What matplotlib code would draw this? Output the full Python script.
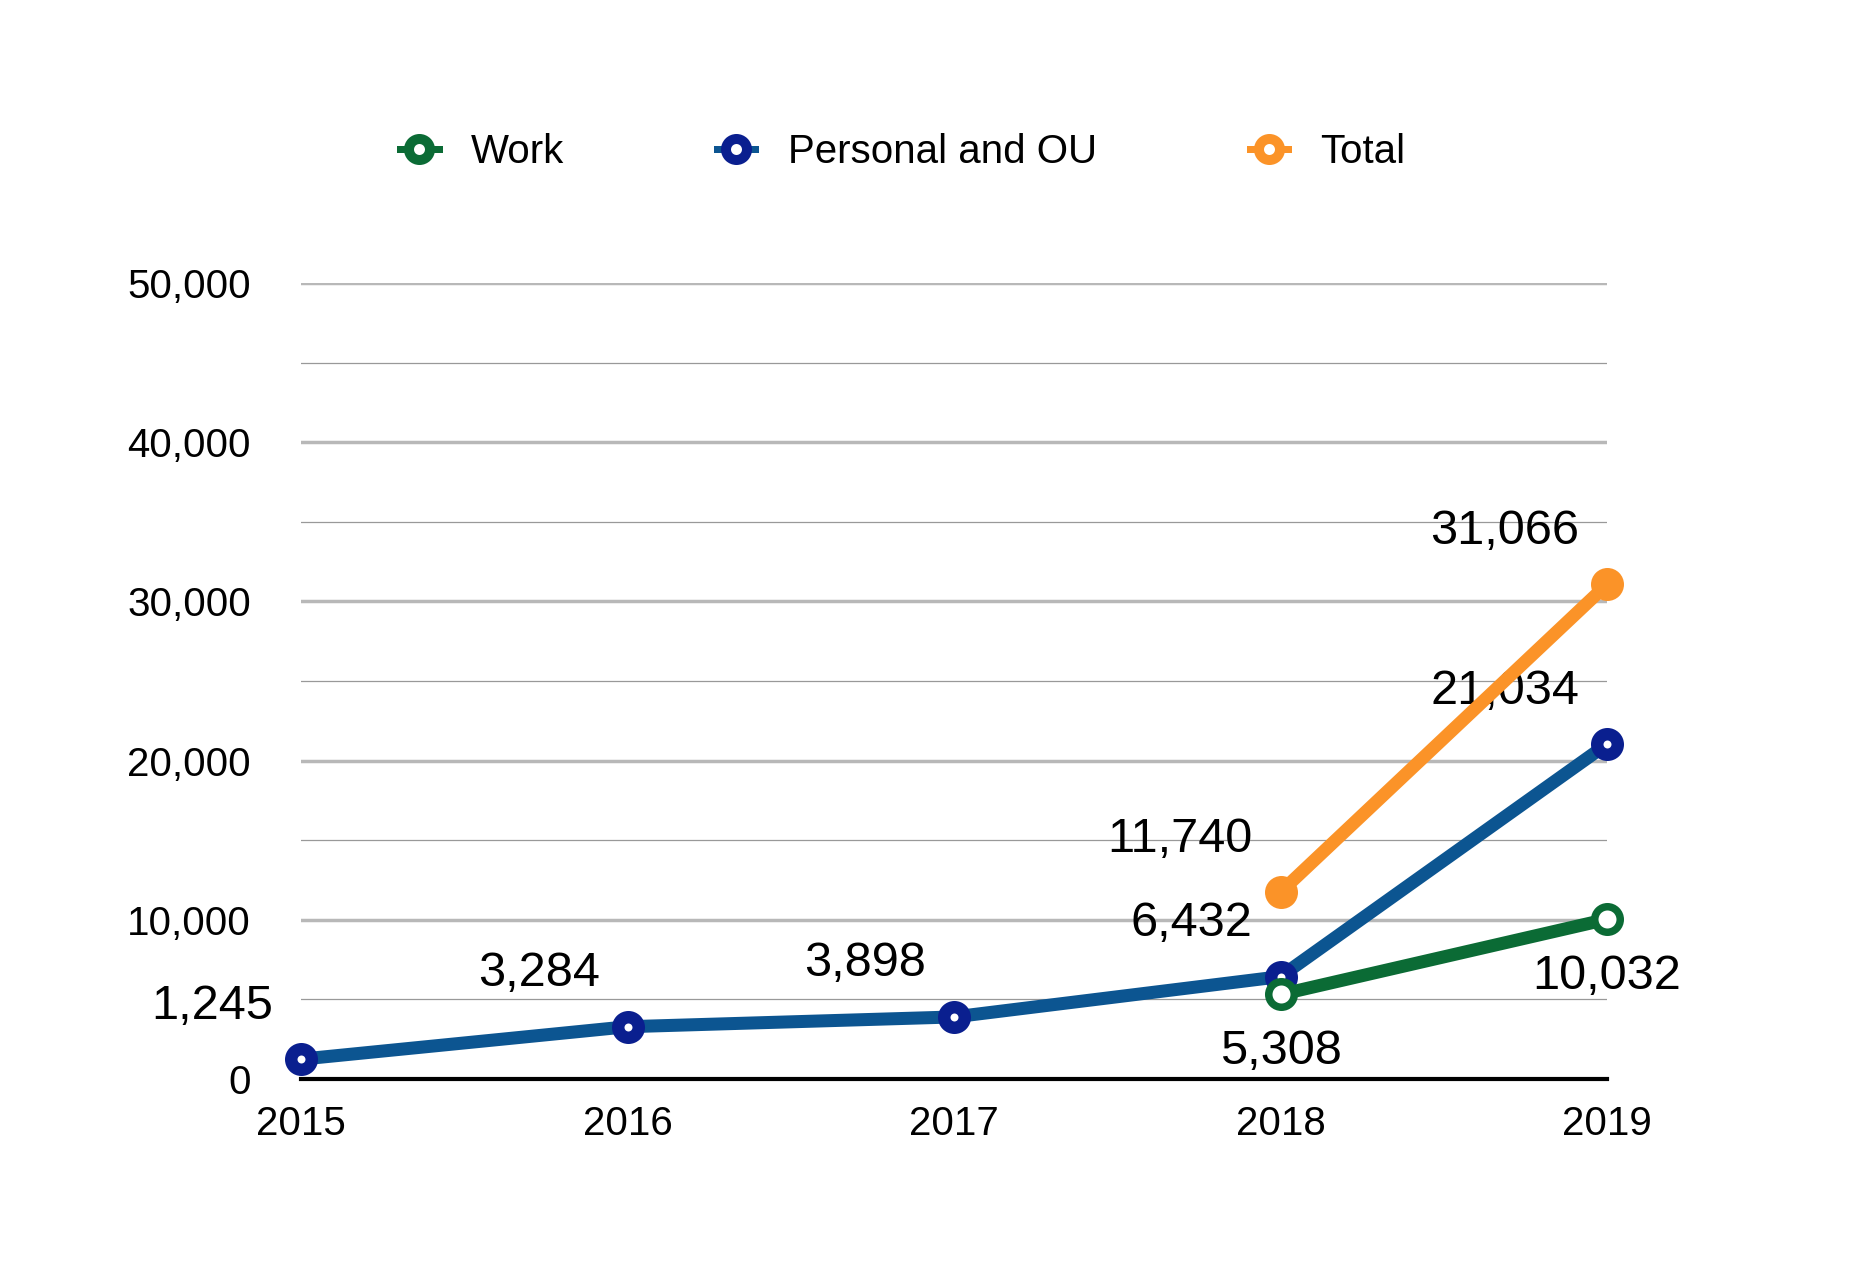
import matplotlib.pyplot as plt
from matplotlib.lines import Line2D
from matplotlib.ticker import FuncFormatter, MultipleLocator

plt.rcParams['font.family'] = ['Liberation Sans', 'DejaVu Sans']

# datos
anios = [2015, 2016, 2017, 2018, 2019]
anios_work = [2018, 2019]
work = [5308, 10032]
personal = [1245, 3284, 3898, 6432, 21034]
anios_total = [2018, 2019]
total = [11740, 31066]
nombres = ["Work", "Personal and OU", "Total"]

verde = "#0b6b35"
azul_linea = "#0c5591"
azul_marca = "#0a1f8f"
naranja = "#fb9328"

fig = plt.figure(figsize=(18.54, 12.62), dpi=100)
ax = fig.add_axes([301 / 1854, 1 - 1079 / 1262, (1607 - 301) / 1854, (1079 - 283) / 1262])

px = 72 / 100  # puntos por pixel

ax.plot(anios, personal, color=azul_linea, lw=13 * px, marker="o", ms=20.5 * px,
        mfc="white", mec=azul_marca, mew=12.5 * px, clip_on=False, zorder=3)
ax.plot(anios_work, work, color=verde, lw=13 * px, marker="o", ms=25.5 * px,
        mfc="white", mec=verde, mew=7.5 * px, clip_on=False, zorder=4)
ax.plot(anios_total, total, color=naranja, lw=13 * px, marker="o", ms=33 * px,
        mfc=naranja, mec=naranja, mew=0, clip_on=False, zorder=5)

# etiquetas de datos
for x, y in zip(anios, personal):
    ax.annotate(f"{y:,}", (x, y), xytext=(-28, 53), textcoords="offset pixels",
                ha="right", va="center", fontsize=35)
for x, y in zip(anios_total, total):
    ax.annotate(f"{y:,}", (x, y), xytext=(-28, 53), textcoords="offset pixels",
                ha="right", va="center", fontsize=35)
for x, y in zip(anios_work, work):
    ax.annotate(f"{y:,}", (x, y), xytext=(0, -57), textcoords="offset pixels",
                ha="center", va="center", fontsize=35)

ax.set_xlim(2015, 2019)
ax.set_ylim(0, 50000)
ax.set_xticks(anios)
ax.yaxis.set_major_locator(MultipleLocator(10000))
ax.yaxis.set_minor_locator(MultipleLocator(5000))
ax.yaxis.set_major_formatter(FuncFormatter(lambda v, p: f"{int(v):,}"))
ax.tick_params(axis="both", which="both", length=0, labelsize=29)
ax.tick_params(axis="y", pad=36)
ax.tick_params(axis="x", pad=19)

ax.grid(axis="y", which="major", color="#b8b8b8", lw=2.5)
ax.grid(axis="y", which="minor", color="#999999", lw=0.9)
ax.set_axisbelow(True)
for lado in ["top", "right", "left"]:
    ax.spines[lado].set_visible(False)
ax.spines["bottom"].set_linewidth(3)
ax.spines["bottom"].set_zorder(2)

# leyenda con anillos
manijas = [
    Line2D([], [], color=verde, lw=7 * px, marker="o", ms=21 * px, mfc="white",
           mec=verde, mew=10 * px),
    Line2D([], [], color=azul_linea, lw=7 * px, marker="o", ms=21 * px, mfc="white",
           mec=azul_marca, mew=10 * px),
    Line2D([], [], color=naranja, lw=7 * px, marker="o", ms=21 * px, mfc="white",
           mec=naranja, mew=10 * px),
]
fig.legend(manijas, nombres, loc="center", bbox_to_anchor=(0.487, 1 - 152 / 1262),
           ncol=3, frameon=False, fontsize=29, handlelength=0.95,
           handletextpad=0.8, columnspacing=3.8)

plt.savefig("out.png", dpi=100)
